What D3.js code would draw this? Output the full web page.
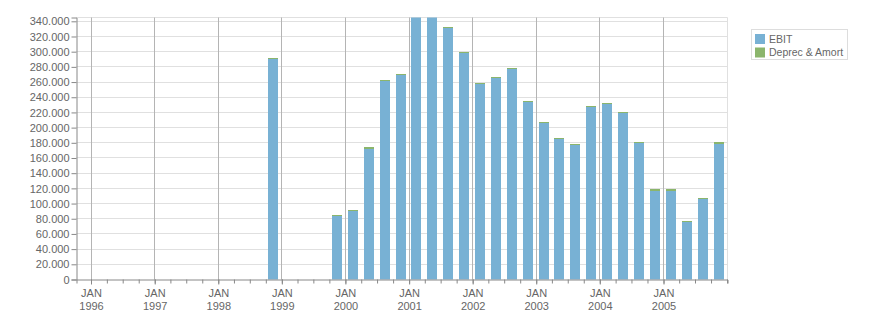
<!DOCTYPE html>
<html>
<head>
<meta charset="utf-8">
<script src="https://cdn.jsdelivr.net/npm/d3@7"></script>
<style>
  body { margin: 0; background: #fff; }
  text { font-family: "Liberation Sans", Arial, sans-serif; font-size: 11px; fill: #666; }
</style>
</head>
<body>
<div class="EbitChart"></div>
<script>
// quarterly values, quarter given by its first month
const quarters = ["1998-10", "1999-10", "2000-01", "2000-04", "2000-07", "2000-10",
  "2001-01", "2001-04", "2001-07", "2001-10", "2002-01", "2002-04", "2002-07", "2002-10",
  "2003-01", "2003-04", "2003-07", "2003-10", "2004-01", "2004-04", "2004-07", "2004-10",
  "2005-01", "2005-04", "2005-07", "2005-10"];
const ebit = [289700, 84200, 89700, 172000, 261000, 268800,
  370000, 366000, 331000, 298000, 257700, 265500, 277000, 233200,
  206000, 185000, 177500, 227000, 231200, 219200, 179800, 117000,
  117000, 75200, 105500, 178900];
const deprec = [2000, 1300, 1400, 2000, 2000, 2200,
  2000, 2000, 2000, 2000, 1600, 1500, 1800, 1800,
  2000, 1800, 1500, 1800, 1800, 1600, 1700, 2000,
  2000, 1800, 1300, 1600];
const seriesNames = ["EBIT", "Deprec & Amort"];
const colors = ["#78b1d4", "#8bb56c"];
const yTicks = [0, 20000, 40000, 60000, 80000, 100000, 120000, 140000, 160000,
  180000, 200000, 220000, 240000, 260000, 280000, 300000, 320000, 340000];
const yearTicks = ["1996", "1997", "1998", "1999", "2000", "2001", "2002", "2003", "2004", "2005"];

let margin = {top: 17.5, right: 148.5, bottom: 33.5, left: 76.5},
    width = 876 - margin.left - margin.right,
    height = 313 - margin.top - margin.bottom;

let svg = d3.select(".EbitChart")
  .append("svg")
  .attr("width", 876)
  .attr("height", 313)
  .append("g")
  .attr("transform", "translate(" + margin.left + "," + margin.top + ")");

let parse = d3.timeParse("%Y-%m");
let fmt = d3.formatLocale({decimal: ",", thousands: ".", grouping: [3], currency: ["", ""]}).format(",d");

// x: time scale, fixed so the januaries land where they do in the picture
let x = d3.scaleTime()
  .domain([new Date(1996, 0, 1), new Date(2005, 0, 1)])
  .range([14.5, 587]);
x.domain([x.invert(0), x.invert(width)]).range([0, width]);

let y = d3.scaleLinear()
  .domain([0, 345000])
  .range([height, 0]);

let years = yearTicks.map(d => d3.timeParse("%Y")(d));

// grid
svg.append("g")
  .selectAll("line")
  .data(yTicks.filter(d => d > 0))
  .join("line")
  .attr("x1", 0).attr("x2", width)
  .attr("y1", d => Math.round(y(d)))
  .attr("y2", d => Math.round(y(d)))
  .attr("stroke", "#e0e0e0");

svg.append("line")
  .attr("x1", 0).attr("x2", width).attr("y1", 0).attr("y2", 0)
  .attr("stroke", "#e0e0e0");
svg.append("line")
  .attr("x1", width).attr("x2", width).attr("y1", 0).attr("y2", height)
  .attr("stroke", "#e0e0e0");

svg.append("g")
  .selectAll("line")
  .data(years)
  .join("line")
  .attr("x1", d => Math.round(x(d))).attr("x2", d => Math.round(x(d)))
  .attr("y1", 0).attr("y2", height)
  .attr("stroke", "#b4b4b4");

// bars, stacked, clipped to plot
svg.append("clipPath")
  .attr("id", "plotClip")
  .append("rect")
  .attr("x", 0).attr("y", 0)
  .attr("width", width).attr("height", height);

let data = quarters.map((q, i) => ({start: parse(q), ebit: ebit[i], deprec: deprec[i]}));
let stack = d3.stack().keys(["ebit", "deprec"])(data);
let barW = 10;

svg.append("g")
  .attr("clip-path", "url(#plotClip)")
  .attr("shape-rendering", "crispEdges")
  .selectAll("g")
  .data(stack)
  .join("g")
  .attr("fill", (d, i) => colors[i])
  .selectAll("rect")
  .data(d => d)
  .join("rect")
  .attr("x", d => {
    let s = x(d.data.start), e = x(d3.timeMonth.offset(d.data.start, 3));
    return Math.round((s + e) / 2 - barW / 2) - 0.5;
  })
  .attr("width", barW)
  .attr("y", d => Math.round(y(d[1]) - 0.5) + 0.5)
  .attr("height", d => Math.round(y(d[0]) - 0.5) - Math.round(y(d[1]) - 0.5));

// y axis
let yAxis = svg.append("g")
  .call(d3.axisLeft(y).tickValues(yTicks).tickFormat(fmt).tickSize(5).tickPadding(2));
yAxis.select(".domain").attr("stroke", "#888");
yAxis.selectAll(".tick line").attr("stroke", "#888");
yAxis.selectAll("text").attr("fill", "#666").style("font-size", "11px").attr("dy", "0.33em");

// x axis, quarter ticks then year ticks
let xMinor = svg.append("g")
  .attr("transform", "translate(0," + height + ")")
  .call(d3.axisBottom(x).ticks(d3.timeMonth.every(3)).tickSize(4).tickFormat(""));
xMinor.select(".domain").attr("stroke", "#888");
xMinor.selectAll(".tick line").attr("stroke", "#888");

let xMajor = svg.append("g")
  .attr("transform", "translate(0," + height + ")")
  .call(d3.axisBottom(x).tickValues(years).tickSize(5).tickFormat(""));
xMajor.select(".domain").remove();
xMajor.selectAll(".tick line").attr("stroke", "#888");

let labels = xMajor.selectAll(".tick").append("text")
  .attr("text-anchor", "middle")
  .attr("fill", "#666");
labels.append("tspan").attr("x", 0).attr("y", 17.5).text("JAN");
labels.append("tspan").attr("x", 0).attr("y", 30.5).text(d => d3.timeFormat("%Y")(d));

// legend
let legend = d3.select(".EbitChart svg").append("g")
  .attr("transform", "translate(751.5,29.5)");
legend.append("rect")
  .attr("width", 96).attr("height", 30)
  .attr("fill", "#fff").attr("stroke", "#ddd");
let item = legend.selectAll(".item")
  .data(seriesNames)
  .join("g")
  .attr("class", "item")
  .attr("transform", (d, i) => "translate(3.5," + (4.5 + i * 13.5) + ")");
item.append("rect")
  .attr("width", 10).attr("height", 10)
  .attr("fill", (d, i) => colors[i]);
item.append("text")
  .attr("x", 14).attr("y", 8.5)
  .attr("fill", "#666")
  .style("font-size", "10.5px")
  .text(d => d);
</script>
</body>
</html>
